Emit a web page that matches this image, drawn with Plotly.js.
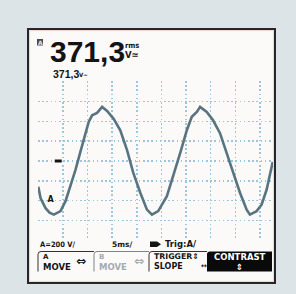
<!DOCTYPE html>
<html><head><meta charset="utf-8">
<script src="https://cdn.plot.ly/plotly-3.0.1.min.js"></script>
<style>html,body{margin:0;padding:0;background:#dde4e7;}#chart{width:296px;height:294px;}</style>
</head><body><div id="chart"></div>
<script>
// ---- data (time in ms, voltage in V) ----
const timeMs = [0, 0.47, 1.48, 2.29, 3.16, 4.51, 5.53, 6.54, 7.55, 8.56, 9.57, 10.24, 10.93, 11.94, 12.96, 13.97, 15.30, 16.65, 18.02, 19.29, 20.71, 22.06, 23.08, 24.35, 26.11, 27.39, 28.81, 30.16, 31.17, 32.19, 32.85, 34.21, 35.49, 36.90, 38.26, 39.53, 40.95, 42.31, 42.98, 44.33, 45.34, 46.36, 47.6];
const voltsA = [-260, -375, -475, -520, -540, -505, -405, -255, -90, 95, 260, 395, 460, 485, 545, 505, 425, 310, 110, -120, -320, -490, -540, -505, -355, -155, 80, 310, 445, 495, 545, 495, 410, 280, 80, -120, -320, -490, -540, -505, -440, -290, -10];
const triggerTime = [4.05];
const triggerLevel = [0];
const groundLabelTime = [2.5];
const groundLabelVolts = [-390];
const groundLabelText = ['A'];
const xGridMs = [0, 5, 10, 15, 20, 25, 30, 35, 40, 45, 47.6];
const yGridV = [-800, -600, -400, -200, 0, 200, 400, 600, 800];
const readingMain = '371,3';
const readingUnitTop = 'rms';
const readingUnitBottom = 'V\u2243';
const readingSub = '371,3';
const readingSubUnit = 'V~';
const statusTexts = ['A=200 V/', '5ms/', 'Trig:A/'];
const softkeyLine1 = ['A', 'B', 'TRIGGER\u21D5', 'CONTRAST'];
const softkeyLine2 = ['MOVE', 'MOVE', 'SLOPE', '\u21D5'];
const softkeyArrow = ['\u21D4', '\u21D4', '\u2194', ''];

// ---- layout helpers (pixel -> paper) ----
const L = 38, R = 23, T = 81, B = 53, W = 296, H = 294;
const pw = W - L - R, ph = H - T - B;
const px = v => (v - L) / pw;
const py = v => (H - B - v) / ph;

const ink = '#141414';
const shapes = [];
shapes.push({type:'rect', xref:'paper', yref:'paper', x0:px(28), x1:px(275), y0:py(283), y1:py(29),
  line:{color:'#262626', width:2}, fillcolor:'#fcfaf8', layer:'below'});
shapes.push({type:'rect', xref:'paper', yref:'paper', x0:px(29.6), x1:px(273.4), y0:py(281.4), y1:py(30.6),
  line:{color:'#eed2ca', width:1}, fillcolor:'rgba(0,0,0,0)', layer:'below'});
shapes.push({type:'rect', xref:'paper', yref:'paper', x0:px(37), x1:px(43), y0:py(45.5), y1:py(39),
  line:{width:0}, fillcolor:'#4a4a4a', layer:'above'});
shapes.push({type:'path', xref:'paper', yref:'paper',
  path:`M${px(150)},${py(247)} L${px(150)},${py(241.5)} L${px(157)},${py(241.5)} L${px(161)},${py(244.2)} L${px(157)},${py(247)} Z`,
  line:{width:0}, fillcolor:ink, layer:'above'});
const keyX = [[38,94],[94,149],[149,207],[207,272]];
const kTop = 251.5, kBot = 271.5, rad = 3;
keyX.forEach((k, i) => {
  const [a, b] = k;
  if (i < 3) {
    shapes.push({type:'path', xref:'paper', yref:'paper',
      path:`M${px(a)},${py(kBot)} L${px(a)},${py(kTop+rad)} Q${px(a)},${py(kTop)} ${px(a+rad)},${py(kTop)} L${px(b)},${py(kTop)}`,
      line:{color: i===1 ? '#7d8589' : '#333', width:1}, layer:'above'});
  } else {
    shapes.push({type:'path', xref:'paper', yref:'paper',
      path:`M${px(a)},${py(kBot)} L${px(a)},${py(kTop+rad)} Q${px(a)},${py(kTop)} ${px(a+rad)},${py(kTop)} L${px(b)},${py(kTop)} L${px(b)},${py(kBot)} Z`,
      line:{width:0}, fillcolor:'#0a0a0a', layer:'above'});
  }
});

const ann = (text, x, y, size, opts={}) => Object.assign({
  text, xref:'paper', yref:'paper', x:px(x), y:py(y), xanchor:'left', yanchor:'middle',
  showarrow:false, font:{family:'DejaVu Sans', size, color:ink, weight:'bold'}
}, opts);
const lib = 'Liberation Sans, Arial, sans-serif';
const annotations = [
  ann('A', 40, 42.5, 6, {xanchor:'center', font:{family:'DejaVu Sans', size:6, color:'#e8e8e8', weight:'bold'}}),
  ann(readingMain, 48, 51.5, 30, {font:{family:lib, size:30, color:ink, weight:'bold'}}),
  ann(readingUnitTop, 122.5, 45.5, 7.5, {font:{family:'DejaVu Sans Condensed', size:7.5, color:ink, weight:'bold'}}),
  ann(readingUnitBottom, 122.5, 54.5, 9.5, {font:{family:'DejaVu Sans Condensed', size:9.5, color:ink, weight:'bold'}}),
  ann(readingSub, 50.5, 74, 10.5, {font:{family:lib, size:10.5, color:ink, weight:'bold'}}),
  ann(readingSubUnit, 76.5, 75, 6, {font:{family:'DejaVu Sans Condensed', size:6, color:ink, weight:'bold'}}),
  ann(statusTexts[0], 37.5, 244, 7.5, {font:{family:'DejaVu Sans Condensed', size:7.5, color:ink, weight:'bold'}}),
  ann(statusTexts[1], 110, 244, 7.5),
  ann(statusTexts[2], 163, 244, 8.5, {font:{family:'DejaVu Sans', size:8.5, color:ink, weight:'bold'}}),
];
const l1x = [41, 97, 152, 239.5], arx = [74, 132, 199, 0];
softkeyLine1.forEach((t, i) => {
  const col = i === 1 ? '#a3abaf' : (i === 3 ? '#ffffff' : ink);
  const xa = i === 3 ? 'center' : 'left';
  const s1 = i === 3 ? 8.5 : (i === 2 ? 7.8 : 7);
  annotations.push(ann(t, l1x[i], 256.5, s1, {xanchor:xa, font:{family:'DejaVu Sans', size:s1, color:col, weight:'bold'}}));
  const s2 = i === 2 ? 8 : 8.5;
  annotations.push(ann(softkeyLine2[i], l1x[i], 266.5, s2, {xanchor:xa, font:{family:'DejaVu Sans', size:s2, color:col, weight:'bold'}}));
  if (softkeyArrow[i]) {
    const ay = i === 2 ? 266 : 260.5;
    const as = i === 2 ? 7 : 12;
    annotations.push(ann(softkeyArrow[i], arx[i], ay, as, {font:{family:'DejaVu Sans', size:as, color:col, weight:'bold'}}));
  }
});

const traces = [
  {x: timeMs, y: voltsA, type:'scatter', mode:'lines', line:{color:'#587480', width:2.6}, hoverinfo:'skip'},
  {x: triggerTime, y: triggerLevel, type:'scatter', mode:'markers',
   marker:{symbol:'line-ew', size:5, line:{color:ink, width:3}}, hoverinfo:'skip'},
  {x: groundLabelTime, y: groundLabelVolts, type:'scatter', mode:'text', text: groundLabelText,
   textfont:{family:'DejaVu Sans', size:8, color:ink, weight:'bold'}, hoverinfo:'skip'}
];

const gridStyle = {showgrid:true, gridcolor:'#9cc6dc', gridwidth:1.5, griddash:'1.6px,2.6px',
  zeroline:false, showline:false, ticks:'', showticklabels:false, fixedrange:true};
const layout = {
  width: W, height: H,
  margin: {l:L, r:R, t:T, b:B, pad:0},
  paper_bgcolor: '#dde4e7', plot_bgcolor: 'rgba(0,0,0,0)',
  showlegend: false,
  xaxis: Object.assign({range:[-0.06, 47.66], tickmode:'array', tickvals:xGridMs}, gridStyle),
  yaxis: Object.assign({range:[-806, 806], tickmode:'array', tickvals:yGridV}, gridStyle),
  shapes, annotations
};
Plotly.newPlot('chart', traces, layout, {staticPlot:true, displayModeBar:false});
</script></body></html>
